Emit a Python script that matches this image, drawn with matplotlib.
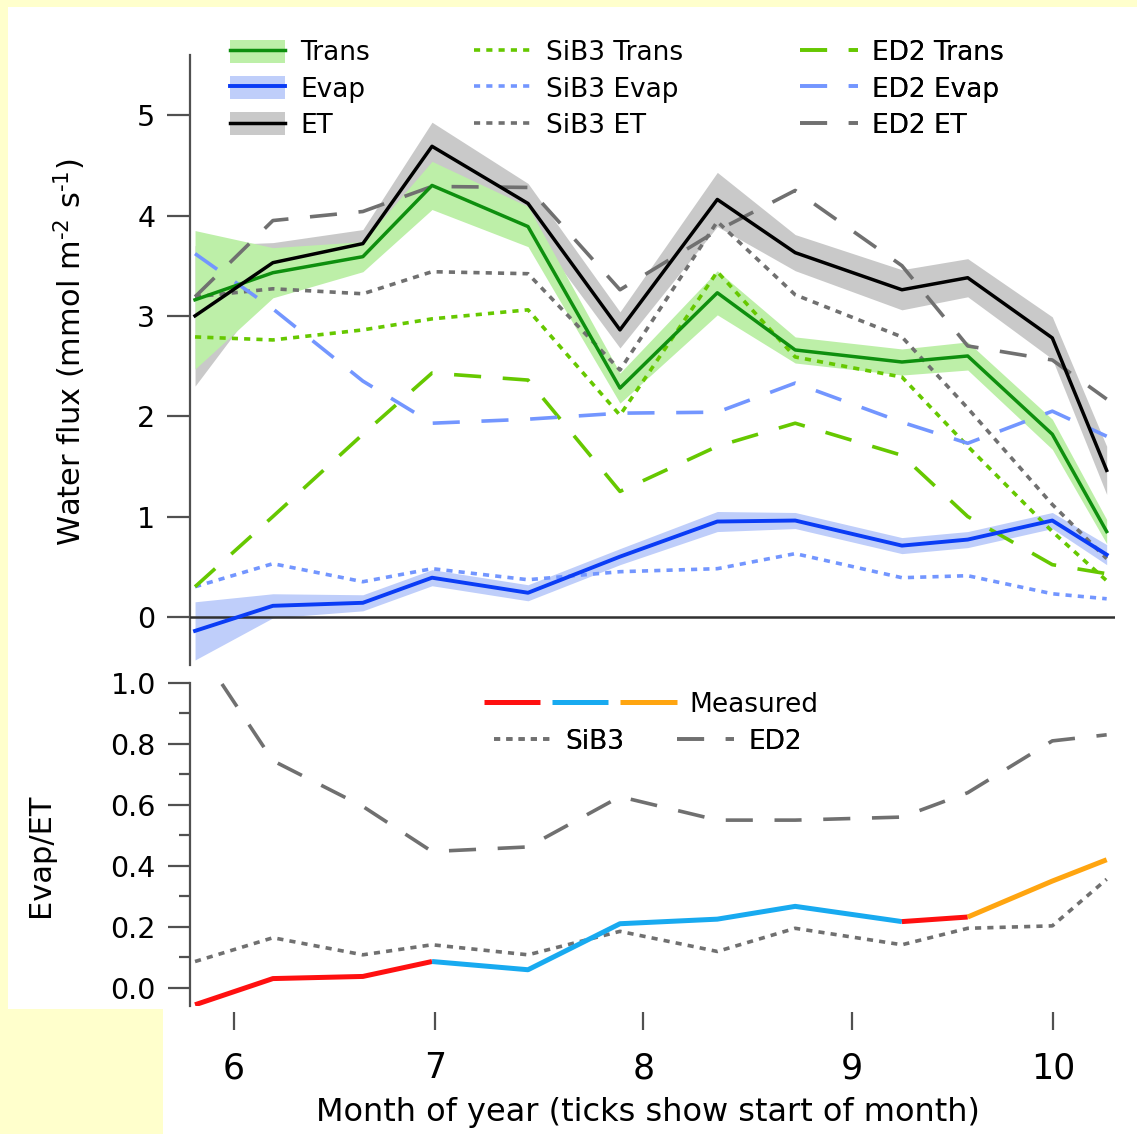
import matplotlib
matplotlib.use("Agg")
import matplotlib.pyplot as plt
import numpy as np
from matplotlib.lines import Line2D
from matplotlib.patches import Patch, Rectangle
from matplotlib.legend_handler import HandlerTuple

plt.rcParams['font.family'] = ['DejaVu Sans']
plt.rcParams['mathtext.fontset'] = 'dejavusans'

# ---------------- data (day of year of each period) ----------------
doy = [146.2, 157.8, 171.2, 181.5, 195.8, 209.5, 224.0, 235.6, 251.5, 261.3, 273.9, 282.0]

trans = [3.16, 3.43, 3.59, 4.30, 3.89, 2.28, 3.23, 2.66, 2.54, 2.60, 1.82, 0.85]
trans_err = [0.69, 0.25, 0.15, 0.24, 0.20, 0.15, 0.22, 0.13, 0.13, 0.14, 0.15, 0.12]
evap = [-0.14, 0.11, 0.14, 0.39, 0.24, 0.60, 0.95, 0.96, 0.71, 0.77, 0.96, 0.62]
evap_err = [0.29, 0.12, 0.08, 0.08, 0.08, 0.08, 0.10, 0.08, 0.08, 0.08, 0.08, 0.10]
et = [3.00, 3.53, 3.72, 4.69, 4.12, 2.86, 4.16, 3.63, 3.26, 3.38, 2.78, 1.46]
et_err = [0.70, 0.20, 0.14, 0.24, 0.20, 0.18, 0.27, 0.18, 0.20, 0.19, 0.21, 0.24]

sib3_trans = [2.79, 2.76, 2.86, 2.97, 3.06, 2.01, 3.44, 2.59, 2.39, 1.70, 0.85, 0.36]
sib3_evap = [0.30, 0.53, 0.35, 0.48, 0.37, 0.45, 0.48, 0.63, 0.39, 0.41, 0.23, 0.18]
sib3_et = [3.19, 3.27, 3.22, 3.44, 3.42, 2.46, 3.94, 3.21, 2.79, 2.08, 1.12, 0.58]

ed2_trans = [0.30, 1.00, 1.82, 2.43, 2.36, 1.25, 1.70, 1.93, 1.61, 1.00, 0.52, 0.43]
ed2_evap = [3.62, 3.07, 2.35, 1.93, 1.97, 2.03, 2.04, 2.33, 1.94, 1.73, 2.05, 1.80]
ed2_et = [3.19, 3.95, 4.04, 4.29, 4.28, 3.26, 3.85, 4.25, 3.50, 2.70, 2.56, 2.17]

meas_ratio = [-0.056, 0.03, 0.037, 0.086, 0.059, 0.21, 0.225, 0.267, 0.217, 0.232, 0.35, 0.42]
sib3_ratio = [0.086, 0.164, 0.108, 0.141, 0.108, 0.185, 0.119, 0.195, 0.141, 0.195, 0.203, 0.356]
ed2_ratio = [1.13, 0.745, 0.595, 0.447, 0.462, 0.627, 0.55, 0.55, 0.56, 0.64, 0.81, 0.83]

# measured-ratio colour segments: (first index, last index, colour)
meas_segments = [(0, 3, '#FF1010'), (3, 8, '#18AAF0'), (8, 9, '#FF1010'), (9, 11, '#FFA510')]

month_ticks = [152, 182, 213, 244, 274]
month_labels = ['6', '7', '8', '9', '10']

# ---------------- styling ----------------
W, H = 1137, 1134
C_TRANS, C_TRANS_B = '#0E8F0E', '#BDEFA8'
C_EVAP, C_EVAP_B = '#0A3CF5', '#BFCEFA'
C_ET, C_ET_B = '#000000', '#C9C9C9'
C_MT, C_ME, C_MET = '#66C800', '#7396FF', '#707070'
DOT = (0, (1.7, 1.7))
DASH = (0, (7.5, 6))
SPINE = '#505050'

fig = plt.figure(figsize=(W / 100, H / 100), dpi=100, facecolor='#FFFFCC')
fig.patches.append(Rectangle((8 / W, 1 - 1009 / H), (W - 8) / W, (1009 - 7) / H,
                             transform=fig.transFigure, facecolor='white', edgecolor='none', zorder=-5))
fig.patches.append(Rectangle((163 / W, 0), (W - 163) / W, (H - 1009) / H,
                             transform=fig.transFigure, facecolor='white', edgecolor='none', zorder=-5))

ax1 = fig.add_axes([190 / W, 1 - 665 / H, 925 / W, 610 / H])
ax2 = fig.add_axes([190 / W, 1 - 1006 / H, 925 / W, 323 / H])
for ax in (ax1, ax2):
    ax.set_facecolor('none')
    ax.set_xlim(145.45, 283.24)
    for s in ('top', 'right', 'bottom'):
        ax.spines[s].set_visible(False)
    ax.spines['left'].set_color(SPINE)
    ax.spines['left'].set_linewidth(1.6)

# ---------------- top panel ----------------
d = np.array(doy)
def band(ax, y, e, c, z):
    y, e = np.array(y), np.array(e)
    ax.fill_between(d, y - e, y + e, color=c, lw=0, zorder=z)

band(ax1, et, et_err, C_ET_B, 1)
band(ax1, trans, trans_err, C_TRANS_B, 2)
band(ax1, evap, evap_err, C_EVAP_B, 3)
ax1.axhline(0, color='#303030', lw=1.8, zorder=3.5)

lw_m = 2.6
ax1.plot(doy, sib3_trans, color=C_MT, lw=lw_m, ls=DOT, zorder=4)
ax1.plot(doy, sib3_evap, color=C_ME, lw=lw_m, ls=DOT, zorder=4)
ax1.plot(doy, sib3_et, color=C_MET, lw=lw_m, ls=DOT, zorder=4)
ax1.plot(doy, ed2_trans, color=C_MT, lw=lw_m, ls=DASH, zorder=4)
ax1.plot(doy, ed2_evap, color=C_ME, lw=lw_m, ls=DASH, zorder=4)
ax1.plot(doy, ed2_et, color=C_MET, lw=lw_m, ls=DASH, zorder=4)

ax1.plot(doy, trans, color=C_TRANS, lw=2.5, zorder=5)
ax1.plot(doy, evap, color=C_EVAP, lw=2.8, zorder=5)
ax1.plot(doy, et, color=C_ET, lw=2.5, zorder=5)

ax1.set_ylim(-0.48, 5.6)
ax1.set_yticks([0, 1, 2, 3, 4, 5])
ax1.set_xticks([])
ax1.tick_params(axis='y', length=16.5, width=1.6, color=SPINE, pad=8.5, labelsize=20.5)

# ---------------- bottom panel ----------------
for i0, i1, c in meas_segments:
    ax2.plot(doy[i0:i1 + 1], meas_ratio[i0:i1 + 1], color=c, lw=3.6, zorder=5,
             solid_capstyle='butt')
ax2.plot(doy, sib3_ratio, color=C_MET, lw=lw_m, ls=DOT, zorder=4)
ax2.plot(doy, ed2_ratio, color=C_MET, lw=lw_m, ls=DASH, zorder=4)

ax2.set_ylim(-0.06, 1.0)
ax2.set_yticks(np.arange(0, 1.01, 0.2))
ax2.set_yticklabels(['0.0', '0.2', '0.4', '0.6', '0.8', '1.0'])
ax2.set_yticks(np.arange(0.1, 1.0, 0.2), minor=True)
ax2.tick_params(axis='y', which='major', length=15.5, width=1.6, color=SPINE, pad=9, labelsize=20.5)
ax2.tick_params(axis='y', which='minor', length=8, width=1.6, color=SPINE)
ax2.spines['bottom'].set_position(('outward', 4.5))
ax2.spines['bottom'].set_visible(True)
ax2.spines['bottom'].set_color('none')
ax2.set_xticks(month_ticks)
ax2.set_xticklabels(month_labels)
ax2.tick_params(axis='x', length=13, width=1.6, color=SPINE, pad=15, labelsize=25)

fig.text(70 / W, 1 - 352 / H, 'Water flux (mmol m$^{\u2010 2}$ s$^{\u2010 1}$)', rotation=90,
         ha='center', va='center', fontsize=22)
fig.text(40 / W, 1 - 855 / H, 'Evap/ET', rotation=90, ha='center', va='center', fontsize=22)
fig.text(648 / W, 1 - 1112 / H, 'Month of year (ticks show start of month)',
         ha='center', va='center', fontsize=23)

# ---------------- legends ----------------
FS = 19
def legend(ax, handles, labels, x_px, y_px, hl, htp, **kw):
    leg = ax.legend(handles, labels, loc='upper left',
                    bbox_to_anchor=(x_px / W, 1 - y_px / H), bbox_transform=fig.transFigure,
                    frameon=False, borderpad=0, borderaxespad=0, fontsize=FS,
                    handlelength=hl, handletextpad=htp, labelspacing=0.37,
                    handleheight=0.95, **kw)
    ax.add_artist(leg)
    return leg

h_main = [(Patch(color=C_TRANS_B, lw=0), Line2D([], [], color=C_TRANS, lw=2.5)),
          (Patch(color=C_EVAP_B, lw=0), Line2D([], [], color=C_EVAP, lw=2.8)),
          (Patch(color=C_ET_B, lw=0), Line2D([], [], color=C_ET, lw=2.5))]
legend(ax1, h_main, ['Trans', 'Evap', 'ET'], 230, 40, 2.08, 0.57)

h_sib = [Line2D([], [], color=c, lw=lw_m, ls=DOT) for c in (C_MT, C_ME, C_MET)]
legend(ax1, h_sib, ['SiB3 Trans', 'SiB3 Evap', 'SiB3 ET'], 474, 40, 2.2, 0.53)

h_ed = [Line2D([], [], color=c, lw=lw_m, ls=DASH) for c in (C_MT, C_ME, C_MET)]
legend(ax1, h_ed, ['ED2 Trans', 'ED2 Evap', 'ED2 ET'], 800, 40, 2.2, 0.53)

h_meas = [tuple(Line2D([], [], color=c, lw=3.6, solid_capstyle='butt')
                for c in ('#FF1010', '#18AAF0', '#FFA510'))]
legend(ax2, h_meas, ['Measured'], 484, 692, 7.3, 0.5,
       handler_map={tuple: HandlerTuple(ndivide=None, pad=0.45)})

h_mod = [Line2D([], [], color=C_MET, lw=lw_m, ls=DOT), Line2D([], [], color=C_MET, lw=lw_m, ls=DASH)]
legend(ax2, h_mod, ['SiB3', 'ED2'], 494, 729, 2.16, 0.55, ncol=2, columnspacing=2.0)

fig.savefig('out.png', dpi=100, facecolor=fig.get_facecolor())
